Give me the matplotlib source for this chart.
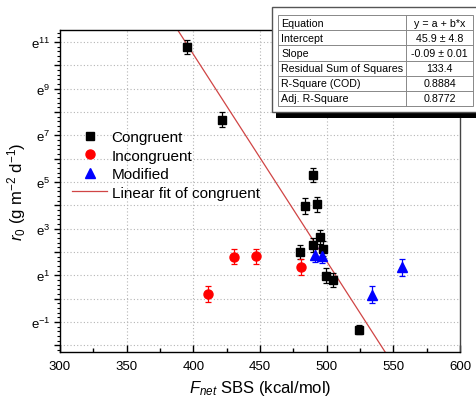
import numpy as np
import matplotlib
matplotlib.use("Agg")
import matplotlib.pyplot as plt
from matplotlib.ticker import MultipleLocator, FuncFormatter
from matplotlib.patches import Rectangle
from matplotlib.lines import Line2D

plt.rcParams['font.family'] = ['Liberation Sans', 'DejaVu Sans']
plt.rcParams['mathtext.fontset'] = 'custom'
plt.rcParams['mathtext.rm'] = 'Liberation Sans'
plt.rcParams['mathtext.it'] = 'Liberation Sans:italic'
plt.rcParams['mathtext.bf'] = 'Liberation Sans:bold'

# ---- data (y values are natural-log of r0) ----
cong_x = [395.1, 421.5, 489.5, 484.0, 493.0, 495.0, 490.0, 497.3, 480.2, 499.8, 504.8, 524.5]
cong_ln_r0 = [10.79, 7.66, 5.30, 3.97, 4.04, 2.66, 2.31, 2.13, 2.01, 0.97, 0.80, -1.33]
cong_err = [0.29, 0.32, 0.30, 0.33, 0.33, 0.30, 0.30, 0.32, 0.30, 0.32, 0.30, 0.18]

incong_x = [410.8, 430.8, 447.3, 480.5]
incong_ln_r0 = [0.20, 1.80, 1.81, 1.34]
incong_err = [0.36, 0.32, 0.31, 0.34]

mod_x = [491.3, 496.3, 533.8, 556.3]
mod_ln_r0 = [1.87, 1.84, 0.17, 1.34]
mod_err = [0.30, 0.32, 0.36, 0.36]

fit_intercept = 45.95
fit_slope = -0.0887

table_rows = ["Equation", "Intercept", "Slope", "Residual Sum of Squares",
              "R-Square (COD)", "Adj. R-Square"]
table_vals = ["y = a + b*x", "45.9 \u00b1 4.8", "-0.09 \u00b1 0.01", "133.4",
              "0.8884", "0.8772"]

W, H = 476, 406
fig = plt.figure(figsize=(W / 100, H / 100), dpi=100)

def fx(px):
    return px / W

def fy(py):
    return 1 - py / H

ax = fig.add_axes([fx(60), fy(353), fx(460) - fx(60), fy(31) - fy(353)])

ax.set_xlim(300, 600)
ax.set_ylim(-2.29, 11.51)

# grid
for v in range(-2, 12):
    ax.axhline(v, color='#b5b5b5', lw=0.8, ls=(0, (1, 2)), zorder=0)
for v in [350, 400, 450, 500, 550]:
    ax.axvline(v, color='#b5b5b5', lw=0.8, ls=(0, (1, 2)), zorder=0)

# fit line
xs = np.array([300, 600])
ax.plot(xs, fit_intercept + fit_slope * xs, color='#d04545', lw=0.9, zorder=2)

# error bars
ax.errorbar(cong_x, cong_ln_r0, yerr=cong_err, fmt='none', ecolor='black',
            elinewidth=0.9, capsize=2.5, capthick=0.9, zorder=3)
ax.errorbar(incong_x, incong_ln_r0, yerr=incong_err, fmt='none', ecolor='red',
            elinewidth=0.9, capsize=2.5, capthick=0.9, zorder=3)
ax.errorbar(mod_x, mod_ln_r0, yerr=mod_err, fmt='none', ecolor='blue',
            elinewidth=0.9, capsize=2.5, capthick=0.9, zorder=3)

ax.plot(cong_x, cong_ln_r0, 's', color='black', ms=6, zorder=4)
ax.plot(incong_x, incong_ln_r0, 'o', color='red', ms=6.5, zorder=4)
ax.plot(mod_x, mod_ln_r0, '^', color='blue', ms=7, zorder=4)

# ticks
ax.xaxis.set_major_locator(MultipleLocator(50))
ax.xaxis.set_minor_locator(MultipleLocator(25))
ax.yaxis.set_major_locator(MultipleLocator(1))
ax.yaxis.set_minor_locator(MultipleLocator(0.2))

def yfmt(v, pos):
    n = int(round(v))
    if n % 2 == 0:
        return ''
    return r'$\mathrm{e}^{%d}$' % n
ax.yaxis.set_major_formatter(FuncFormatter(yfmt))

ax.tick_params(axis='x', which='major', direction='in', length=5, width=1, labelsize=9.5, pad=6)
ax.tick_params(axis='x', which='minor', direction='in', length=3, width=1)
ax.tick_params(axis='y', which='major', direction='out', length=4, width=1, labelsize=9.5, pad=3)
ax.tick_params(axis='y', which='minor', direction='out', length=2.5, width=0.8)

for s in ax.spines.values():
    s.set_linewidth(1.0)
ax.spines['right'].set_color('#444444')

ax.set_xlabel(r'$F_{net}$ SBS (kcal/mol)', fontsize=12, labelpad=4)
ax.set_ylabel(r'$r_{0}$ (g m$^{\mathrm{-2}}$ d$^{\mathrm{-1}}$)', fontsize=12, labelpad=2)

# legend
handles = [
    Line2D([], [], marker='s', ls='none', color='black', ms=6),
    Line2D([], [], marker='o', ls='none', color='red', ms=6.5),
    Line2D([], [], marker='^', ls='none', color='blue', ms=7),
    Line2D([], [], color='#d04545', lw=0.9),
]
labels = ['Congruent', 'Incongruent', 'Modified', 'Linear fit of congruent']
ax.legend(handles, labels, loc='upper left', bbox_to_anchor=(fx(72), fy(131)),
          bbox_transform=fig.transFigure, frameon=False, fontsize=11,
          handlelength=2.3, handletextpad=0.3, borderpad=0, borderaxespad=0,
          labelspacing=0.3)

# table (figure pixel coords)
fig.add_artist(Rectangle((fx(276), fy(119)), fx(480) - fx(276), fy(113) - fy(119),
                         transform=fig.transFigure, facecolor='black', edgecolor='none', zorder=10))
fig.add_artist(Rectangle((fx(272), fy(113)), fx(480) - fx(272), fy(8) - fy(113),
                         transform=fig.transFigure, facecolor='white', edgecolor='#555555',
                         lw=1.0, zorder=11))
top, bot = 16, 107
left, mid, right = 278, 406, 473
rh = (bot - top) / len(table_rows)
gcol = '#888888'
fig.add_artist(Rectangle((fx(left), fy(bot)), fx(right) - fx(left), fy(top) - fy(bot),
                         transform=fig.transFigure, facecolor='none', edgecolor=gcol,
                         lw=0.7, zorder=12))
fig.add_artist(Line2D([fx(mid), fx(mid)], [fy(top), fy(bot)], transform=fig.transFigure,
                      color=gcol, lw=0.7, zorder=12))
for i in range(1, len(table_rows)):
    yy = top + i * rh
    fig.add_artist(Line2D([fx(left), fx(right)], [fy(yy), fy(yy)], transform=fig.transFigure,
                          color=gcol, lw=0.7, zorder=12))
for i, (r, v) in enumerate(zip(table_rows, table_vals)):
    yc = top + (i + 0.5) * rh
    fig.text(fx(281), fy(yc), r, ha='left', va='center', fontsize=7.7, zorder=13)
    fig.text(fx((mid + right) / 2), fy(yc), v, ha='center', va='center', fontsize=7.7, zorder=13)

fig.savefig('out.png', dpi=100)
